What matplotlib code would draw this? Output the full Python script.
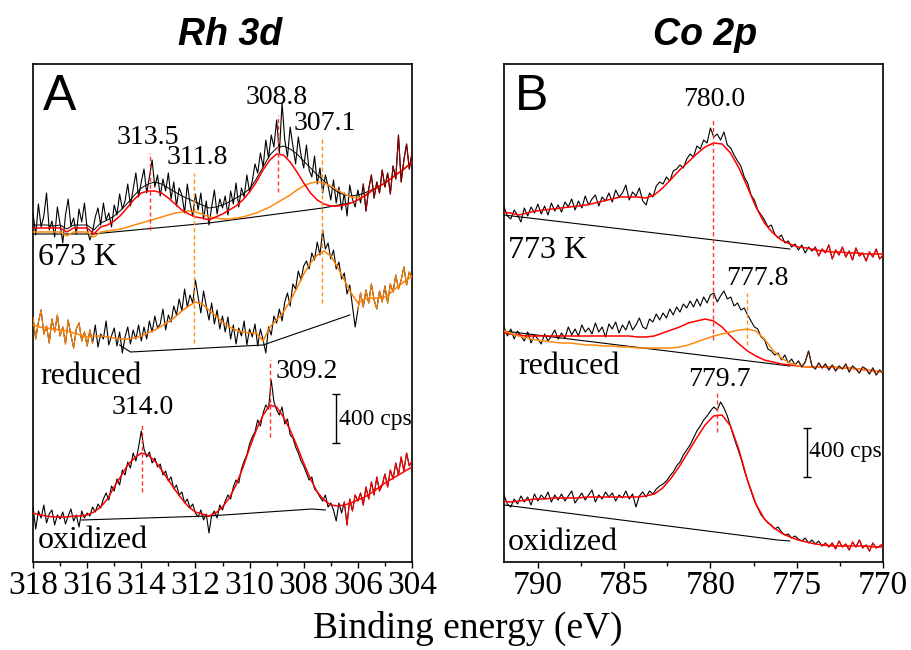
import numpy as np
import matplotlib.pyplot as plt
from matplotlib.ticker import MultipleLocator

plt.rcParams['font.family'] = 'Liberation Serif'

# intensities are offset values in a.u. (49 a.u. = 400 cps)

# ---------------- Rh 3d (raw: 318 -> 304 eV, 0.1 eV steps) ----------------
rh_energy = np.round(np.linspace(318, 304, 141), 1)

rh_673 = [352, 330, 361, 338, 349, 372, 335, 344, 328, 358, 341,
          322, 350, 366, 339, 347, 331, 356, 343, 362, 336,
          325, 333, 348, 357, 340, 362, 345, 352, 338, 360,
          350, 371, 356, 364, 381, 359, 376, 392, 368, 383,
          396, 372, 388, 405, 378, 390, 369, 386, 374, 392,
          366, 383, 359, 377, 370, 352, 381, 362, 349, 371,
          355, 372, 346, 364, 340, 358, 375, 351, 366, 357,
          369, 350, 374, 361, 382, 358, 377, 368, 390, 373,
          384, 401, 392, 412, 398, 425, 407, 430, 418, 445,
          412, 462, 425, 408, 438, 419, 401, 428, 410, 397,
          420, 395, 388, 409, 381, 397, 372, 390, 379, 365,
          385, 362, 378, 355, 372, 349, 380, 366, 358, 375,
          362, 381, 354, 376, 390, 367, 383, 372, 395, 378,
          392, 371, 399, 386, 430, 383, 405, 421, 396, 412]

rh_reduced = [248, 226, 243, 255, 231, 239, 222, 246, 233, 250, 229,
              238, 221, 245, 230, 217, 236, 242, 224, 233, 219,
              235, 222, 240, 218, 231, 226, 244, 220, 229, 237,
              219, 233, 212, 228, 238, 221, 235, 226, 240, 224,
              238, 226, 244, 233, 249, 237, 241, 256, 235, 250,
              243, 259, 250, 266, 254, 276, 258, 270, 262, 285,
              268, 252, 274, 259, 245, 262, 241, 255, 236, 249,
              233, 248, 226, 240, 221, 237, 229, 244, 220, 236,
              228, 241, 219, 236, 225, 212, 238, 230, 249, 242,
              256, 244, 263, 272, 259, 281, 276, 294, 285, 299,
              304, 296, 312, 305, 323, 310, 335, 316, 322, 306,
              315, 296, 303, 286, 292, 271, 280, 259, 238, 255,
              272, 258, 275, 262, 281, 265, 256, 274, 263, 279,
              262, 281, 273, 290, 276, 285, 298, 280, 293, 287]

rh_oxidized = [58, 36, 54, 47, 60, 42, 51, 55, 40, 50, 46,
               53, 41, 49, 56, 44, 50, 38, 54, 47, 52,
               49, 58, 53, 61, 57, 66, 72, 65, 79, 74,
               86, 80, 95, 90, 103, 97, 112, 104, 118, 134,
               116, 108, 113, 102, 107, 98, 101, 90, 94, 84,
               88, 76, 80, 70, 73, 62, 66, 57, 61, 52,
               48, 55, 45, 51, 32, 50, 54, 47, 60, 55,
               64, 70, 66, 78, 85, 82, 96, 104, 110, 121,
               128, 133, 145, 139, 152, 160, 156, 185, 163, 155,
               150, 158, 141, 146, 130, 127, 118, 112, 104, 99,
               92, 85, 88, 76, 73, 68, 64, 70, 58, 62,
               55, 44, 62, 52, 63, 40, 66, 54, 70, 64,
               72, 60, 78, 66, 83, 70, 88, 74, 80, 91,
               78, 95, 86, 102, 90, 108, 94, 112, 99, 104]

# fitted curves (318 -> 304 eV, 0.25 eV steps)
rh_fit_energy = np.linspace(318, 304, 57)
rh_673_env = [340, 340, 340, 339, 340, 336, 340, 340, 340, 335,
              342, 345, 349, 355, 362, 370, 377, 381, 383, 381,
              377, 373, 369, 366, 363, 360, 357, 358, 360, 363,
              367, 371, 376, 386, 398, 410, 417, 419, 416, 411,
              404, 397, 390, 384, 378, 373, 370, 369, 370, 372,
              375, 378, 382, 387, 392, 397, 403]
rh_673_metal = [337, 337, 337, 337, 337, 333, 337, 337, 337, 331,
                338, 340, 344, 350, 358, 366, 372, 374, 374, 372,
                367, 361, 355, 351, 348, 347, 345, 348, 351, 355,
                359, 365, 373, 383, 395, 405, 411, 410, 403, 393,
                382, 372, 365, 361, 359, 359, 360, 362, 365, 369,
                374, 378, 382, 387, 392, 397, 403]
rh_673_second = [333, 333, 333, 333, 333, 329, 333, 333, 333, 328,
                 333, 334, 335, 336, 338, 340, 342, 344, 346, 348,
                 350, 352, 353, 354, 353, 351, 348, 347, 346, 346,
                 347, 348, 350, 352, 355, 358, 362, 366, 370, 375,
                 379, 382, 383, 382, 379, 375, 371, 368, 367, 369,
                 374, 378, 382, 387, 392, 397, 403]
rh_reduced_fit = [240, 238, 237, 236, 235, 234, 232, 230, 228, 229,
                  229, 228, 227, 226, 226, 227, 229, 232, 235, 239,
                  243, 248, 254, 259, 263, 261, 255, 249, 243, 238,
                  235, 233, 232, 232, 224, 238, 245, 253, 264, 277,
                  291, 302, 310, 314, 309, 298, 285, 272, 262, 266,
                  267, 267, 268, 273, 279, 284, 289]
rh_oxidized_fit = [52, 50, 49, 48, 48, 48, 49, 49, 50, 53,
                   58, 66, 78, 89, 100, 107, 112, 110, 104, 95,
                   85, 75, 66, 58, 53, 51, 49, 52, 58, 67,
                   80, 97, 117, 135, 150, 160, 158, 148, 135, 119,
                   102, 86, 73, 65, 60, 59, 60, 62, 65, 68,
                   72, 77, 82, 86, 90, 94, 98]

rh_bg_673_e = [318, 315.8, 311.5, 307.3, 306.3]
rh_bg_673 = [331, 331, 342, 357, 362]
rh_bg_red_e = [314.8, 314.4, 309.5, 306.3]
rh_bg_red = [220, 213, 220, 250]
rh_bg_oxi_e = [316.2, 311.5, 307.7, 307.2]
rh_bg_oxi = [45, 49, 56, 55]

# peak markers: label, x of dashed line, y range, colour, label x, label y
rh_peaks = [('313.5', 313.66, 335, 412, 'red', 313.76, 428),
            ('311.8', 312.06, 222, 392, 'orange', 311.92, 408),
            ('308.8', 308.96, 373, 450, 'red', 309.01, 468),
            ('307.1', 307.34, 262, 427, 'orange', 307.24, 442),
            ('314.0', 313.97, 73, 142, 'red', 313.95, 157),
            ('309.2', 309.24, 128, 205, 'red', 307.9, 193)]

# ---------------- Co 2p (raw: 791.95 -> 770 eV) ----------------
co_energy = np.linspace(791.95, 770.0, 113)

co_773 = [358, 349,
          346, 355, 350, 343, 357,
          349, 358, 352, 361, 351,
          359, 350, 362, 354, 360,
          353, 363, 358, 366, 355,
          364, 357, 369, 360, 366,
          370, 359, 368, 364, 372,
          363, 375, 368, 372, 380,
          365, 373, 369, 377, 364,
          360, 372, 368, 379, 383,
          381, 388, 384, 394, 396,
          400, 397, 406, 411, 408,
          419, 416, 425, 422, 437,
          428, 431, 425, 433, 420,
          417, 410, 404, 399, 388,
          382, 370, 365, 355, 350,
          345, 338, 340, 331, 327,
          330, 322, 324, 318, 321,
          315, 320, 312, 318, 314,
          318, 309, 316, 312, 320,
          306, 315, 310, 318, 308,
          314, 305, 317, 309, 312,
          304, 313, 308, 316, 306,
          310]

co_reduced = [238, 229,
              236, 226, 234, 229, 224,
              233, 222, 230, 226, 221,
              231, 224, 229, 235, 226,
              232, 227, 238, 230, 236,
              229, 240, 233, 237, 231,
              242, 233, 238, 228, 241,
              236, 243, 232, 240, 235,
              244, 235, 240, 247, 238,
              236, 246, 243, 251, 245,
              252, 247, 256, 250, 258,
              253, 261, 257, 264, 258,
              266, 259, 268, 262, 270,
              272, 263, 269, 274, 266,
              268, 259, 262, 255, 257,
              250, 244, 238, 236, 228,
              225, 216, 214, 210, 212,
              205, 210, 202, 206, 200,
              204, 198, 203, 214, 199,
              196, 202, 197, 201, 195,
              200, 194, 199, 196, 201,
              193, 199, 196, 192, 198,
              196, 191, 197, 190, 195,
              192]

co_oxidized = [70, 61,
               58, 66, 61, 69, 63,
               68, 60, 71, 64, 70,
               66, 73, 63, 70, 65,
               71, 64, 69, 74, 62,
               67, 72, 65, 70, 75,
               63, 70, 66, 73, 68,
               72, 64, 70, 67, 74,
               66, 71, 58, 69, 73,
               68, 74, 71, 76, 79,
               81, 84, 89, 93, 99,
               103, 110, 115, 120, 127,
               134, 139, 145, 149, 154,
               158, 155, 163, 157, 149,
               138, 127, 117, 107, 95,
               84, 74, 64, 57, 50,
               46, 42, 40, 36, 38,
               33, 30, 31, 27, 29,
               26, 24, 27, 22, 25,
               21, 24, 19, 22, 18,
               22, 16, 24, 18, 21,
               15, 23, 18, 25, 17,
               20, 14, 22, 17, 19,
               21]

# fitted curves (792.08 -> 770 eV)
co_fit_energy = np.linspace(792.08, 770.0, 46)
co_773_fit = [353, 352, 350, 352, 354, 355, 356, 357, 358, 359,
              360, 362, 364, 366, 368, 368, 368, 367, 370, 377,
              386, 395, 403, 411, 418, 422, 421, 412, 397, 378,
              358, 342, 332, 325, 321, 318, 317, 315, 314, 313,
              313, 312, 312, 311, 311, 311]
co_reduced_oxide = [233, 231, 230, 229, 229, 229, 229, 229, 229, 229,
                    229, 229, 229, 229, 229, 229, 228, 228, 229, 232,
                    235, 238, 242, 244, 246, 244, 238, 229, 221, 214,
                    209, 205, 203, 201, 200, 199, 198, 198, 198, 198,
                    197, 197, 196, 195, 194, 193]
co_reduced_metal = [235, 232, 229, 227, 225, 224, 223, 222, 222, 221,
                    220, 220, 219, 219, 218, 218, 217, 217, 217, 217,
                    217, 218, 220, 223, 226, 229, 231, 233, 235, 236,
                    234, 226, 215, 207, 202, 199, 198, 198, 198, 198,
                    197, 197, 196, 195, 194, 193]
co_oxidized_fit = [64, 63, 64, 65, 66, 66, 67, 67, 67, 67,
                   68, 68, 68, 68, 68, 68, 68, 69, 71, 77,
                   87, 99, 113, 127, 140, 149, 150, 139, 115, 85,
                   61, 46, 38, 32, 28, 25, 23, 21, 20, 19,
                   19, 19, 19, 19, 18, 18]

co_bg_773_e = [791.95, 775.4]
co_bg_773 = [350, 316]
co_bg_red_e = [791.95, 775.4]
co_bg_red = [234, 199]
co_bg_oxi_e = [791.95, 776.1, 775.4]
co_bg_oxi = [60, 25, 24]

co_peaks = [('780.0', 779.87, 225, 447, 'red', 779.75, 465),
            ('777.8', 777.88, 220, 272, 'orange', 777.27, 287),
            ('779.7', 779.6, 133, 172, 'red', 779.48, 185)]

RED = '#ff0000'
ORANGE = '#ff8a10'
DASH_COL = {'red': '#ff3030', 'orange': '#ff9020'}


def spectrum(ax, e, raw, fit_e, fits, bg_e, bg, tail, tail_color):
    raw = np.asarray(raw, dtype=float)
    ax.plot(e, raw, color='black', lw=0.8, zorder=2)
    ax.plot(bg_e, bg, color='black', lw=0.8, zorder=3)
    for y, c, w in fits:
        ax.plot(fit_e, y, color=c, lw=w, zorder=4)
    ax.plot(e, np.where(tail, raw, np.nan), color=tail_color, lw=0.8, zorder=5)


def peaks(ax, items, size):
    for lab, x, y0, y1, col, tx, ty in items:
        ax.plot([x, x], [y0, y1], color=DASH_COL[col], lw=1.0,
                ls=(0, (3, 2)), zorder=6)
        ax.text(tx, ty, lab, ha='center', va='center', fontsize=size)


fig = plt.figure(figsize=(9.12, 6.5), dpi=100)
ax_rh = fig.add_axes([33 / 912, 88 / 650, 379 / 912, 498 / 650])
ax_co = fig.add_axes([504 / 912, 88 / 650, 379 / 912, 498 / 650])

# Rh 3d
spectrum(ax_rh, rh_energy, rh_673, rh_fit_energy,
         [(rh_673_env, 'black', 0.7), (rh_673_second, ORANGE, 1.1),
          (rh_673_metal, RED, 1.1)],
         rh_bg_673_e, rh_bg_673, rh_energy <= 305.8, '#8b0000')
spectrum(ax_rh, rh_energy, rh_reduced, rh_fit_energy,
         [(rh_reduced_fit, '#ff7f00', 1.1)],
         rh_bg_red_e, rh_bg_red, (rh_energy >= 315.8) | (rh_energy <= 306.0), '#ff7f00')
spectrum(ax_rh, rh_energy, rh_oxidized, rh_fit_energy,
         [(rh_oxidized_fit, RED, 1.1)],
         rh_bg_oxi_e, rh_bg_oxi, rh_energy <= 306.5, RED)
peaks(ax_rh, rh_peaks, 20)

# Co 2p
spectrum(ax_co, co_energy, co_773, co_fit_energy, [(co_773_fit, RED, 1.1)],
         co_bg_773_e, co_bg_773, co_energy <= 773.93, RED)
spectrum(ax_co, co_energy, co_reduced, co_fit_energy,
         [(co_reduced_oxide, RED, 1.1), (co_reduced_metal, ORANGE, 1.1)],
         co_bg_red_e, co_bg_red, co_energy <= 774.9, '#5a2010')
spectrum(ax_co, co_energy, co_oxidized, co_fit_energy, [(co_oxidized_fit, RED, 1.1)],
         co_bg_oxi_e, co_bg_oxi, co_energy <= 773.53, RED)
peaks(ax_co, co_peaks, 20)

# sample labels
rh_labels = [('673 K', 317.82, 308), ('reduced', 317.74, 188), ('oxidized', 317.82, 25)]
co_labels = [('773 K', 791.72, 315), ('reduced', 791.13, 198), ('oxidized', 791.72, 23)]
for ax, items in [(ax_rh, rh_labels), (ax_co, co_labels)]:
    for lab, x, y in items:
        ax.text(x, y, lab, ha='left', va='center', fontsize=23)

ax_rh.text(317.0, 468, 'A', ha='center', va='center', fontsize=36,
           family='Liberation Sans')
ax_co.text(790.33, 468, 'B', ha='center', va='center', fontsize=36,
           family='Liberation Sans')

# 400 cps scale bars
ax_rh.errorbar(306.8, 146.5, yerr=24.5, color='black', lw=1, capsize=3)
ax_rh.text(306.69, 146, '400 cps', ha='left', va='center', fontsize=17)
ax_co.errorbar(774.42, 112.5, yerr=24.5, color='black', lw=1, capsize=3)
ax_co.text(774.26, 113, '400 cps', ha='left', va='center', fontsize=17)

ax_rh.set_xlim(318, 304)
ax_rh.xaxis.set_major_locator(MultipleLocator(2))
ax_rh.xaxis.set_minor_locator(MultipleLocator(1))
ax_co.set_xlim(791.95, 770)
ax_co.xaxis.set_major_locator(MultipleLocator(5))
ax_co.xaxis.set_minor_locator(MultipleLocator(2.5))

for ax in (ax_rh, ax_co):
    ax.set_ylim(3, 501)
    ax.set_yticks([])
    ax.tick_params(axis='x', which='major', direction='out', length=4,
                   width=1, labelsize=24, pad=2)
    ax.tick_params(axis='x', which='minor', direction='out', length=3, width=1)
    for sp in ax.spines.values():
        sp.set_linewidth(1.2)

fig.text(230 / 912, 1 - 35 / 650, 'Rh 3d', ha='center', va='center',
         fontsize=27, fontweight='bold', fontstyle='italic', family='Liberation Sans')
fig.text(705 / 912, 1 - 35 / 650, 'Co 2p', ha='center', va='center',
         fontsize=27, fontweight='bold', fontstyle='italic', family='Liberation Sans')
fig.text(468 / 912, 1 - 628 / 650, 'Binding energy (eV)', ha='center', va='center',
         fontsize=27)

fig.savefig('out.png', dpi=100, facecolor='white')
